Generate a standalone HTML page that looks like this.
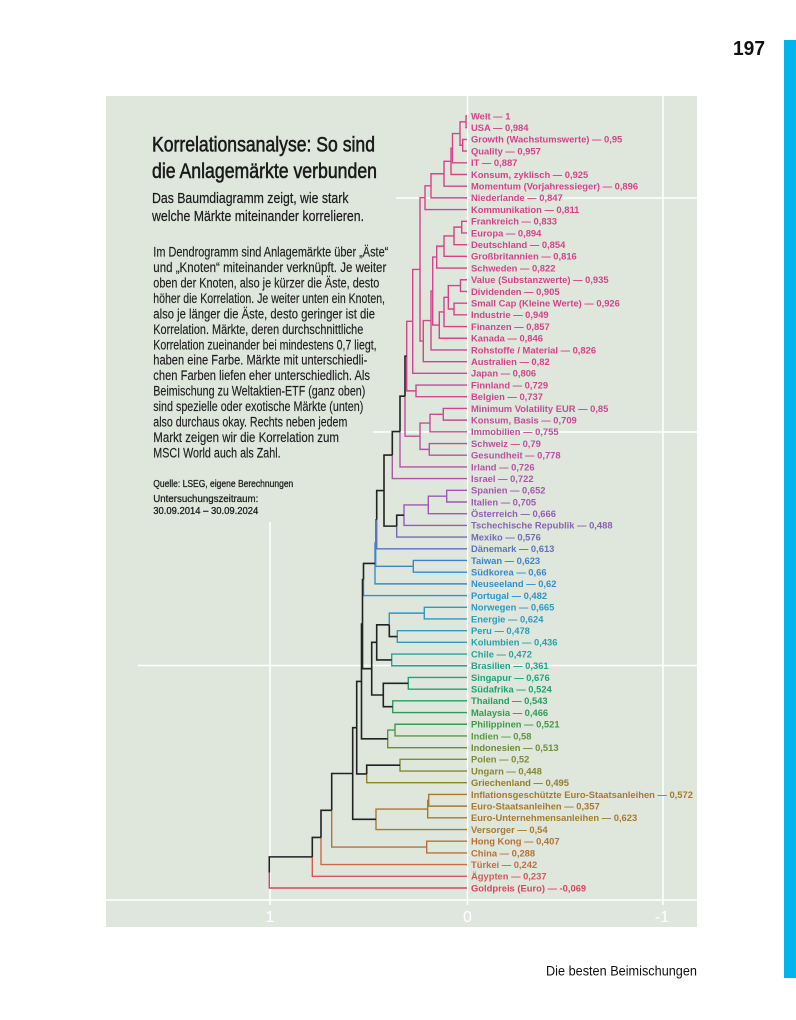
<!DOCTYPE html>
<html><head><meta charset="utf-8"><style>
html,body{margin:0;padding:0;background:#fff;}
svg{display:block;}
</style></head><body>
<svg xmlns="http://www.w3.org/2000/svg" width="796" height="1020" viewBox="0 0 796 1020" font-family="'Liberation Sans', sans-serif">
<rect x="0" y="0" width="796" height="1020" fill="#ffffff"/>
<rect x="784" y="40" width="12" height="938" fill="#00b4ee"/>
<text x="733" y="55" font-size="20" font-weight="bold" fill="#111" textLength="32" lengthAdjust="spacingAndGlyphs">197</text>
<text x="546" y="975.5" font-size="13.5" fill="#111" textLength="151" lengthAdjust="spacingAndGlyphs">Die besten Beimischungen</text>

<rect x="106" y="96" width="591" height="831" fill="#dfe6dc"/>
<!-- gridlines -->
<g stroke="#ffffff" stroke-width="1.5" fill="none">
<line x1="467.5" y1="96" x2="467.5" y2="905"/>
<line x1="663" y1="96" x2="663" y2="905"/>
<line x1="270" y1="522" x2="270" y2="905"/>
<line x1="106" y1="900" x2="697" y2="900"/>
<line x1="138" y1="665.5" x2="697" y2="665.5"/>
<line x1="373" y1="432" x2="697" y2="432"/>
<line x1="396" y1="198" x2="697" y2="198"/>
</g>
<g fill="#ffffff" font-size="16" text-anchor="middle">
<text x="270" y="922">1</text>
<text x="467.5" y="922">0</text>
<text x="662" y="922">-1</text>
</g>

<!-- title & text -->
<g fill="#1a1a1a" stroke="#1a1a1a" stroke-width="0.55">
<text x="152" y="151.5" font-size="21" textLength="223" lengthAdjust="spacingAndGlyphs">Korrelationsanalyse: So sind</text>
<text x="152" y="178" font-size="21" textLength="225" lengthAdjust="spacingAndGlyphs">die Anlagemärkte verbunden</text>
</g>
<g fill="#1a1a1a" stroke="#1a1a1a" stroke-width="0.2">
<text x="152" y="203" font-size="15" textLength="196.5" lengthAdjust="spacingAndGlyphs">Das Baumdiagramm zeigt, wie stark</text>
<text x="152" y="221" font-size="15" textLength="212" lengthAdjust="spacingAndGlyphs">welche Märkte miteinander korrelieren.</text>
</g>
<g fill="#1e1e1e" font-size="13.5" stroke="#1e1e1e" stroke-width="0.15">
<text x="153.3" y="256.5" textLength="235" lengthAdjust="spacingAndGlyphs">Im Dendrogramm sind Anlagemärkte über „Äste“</text>
<text x="153.3" y="272" textLength="233" lengthAdjust="spacingAndGlyphs">und „Knoten“ miteinander verknüpft. Je weiter</text>
<text x="153.3" y="287.4" textLength="226" lengthAdjust="spacingAndGlyphs">oben der Knoten, also je kürzer die Äste, desto</text>
<text x="153.3" y="302.9" textLength="231.7" lengthAdjust="spacingAndGlyphs">höher die Korrelation. Je weiter unten ein Knoten,</text>
<text x="153.3" y="318.3" textLength="221.7" lengthAdjust="spacingAndGlyphs">also je länger die Äste, desto geringer ist die</text>
<text x="153.3" y="333.8" textLength="210" lengthAdjust="spacingAndGlyphs">Korrelation. Märkte, deren durchschnittliche</text>
<text x="153.3" y="349.3" textLength="223.3" lengthAdjust="spacingAndGlyphs">Korrelation zueinander bei mindestens 0,7 liegt,</text>
<text x="153.3" y="364.7" textLength="214" lengthAdjust="spacingAndGlyphs">haben eine Farbe. Märkte mit unterschiedli-</text>
<text x="153.3" y="380.2" textLength="216.7" lengthAdjust="spacingAndGlyphs">chen Farben liefen eher unterschiedlich. Als</text>
<text x="153.3" y="395.6" textLength="212" lengthAdjust="spacingAndGlyphs">Beimischung zu Weltaktien-ETF (ganz oben)</text>
<text x="153.3" y="411.1" textLength="210" lengthAdjust="spacingAndGlyphs">sind spezielle oder exotische Märkte (unten)</text>
<text x="153.3" y="426.6" textLength="194" lengthAdjust="spacingAndGlyphs">also durchaus okay. Rechts neben jedem</text>
<text x="153.3" y="442" textLength="185.7" lengthAdjust="spacingAndGlyphs">Markt zeigen wir die Korrelation zum</text>
<text x="153.3" y="457.5" textLength="127.3" lengthAdjust="spacingAndGlyphs">MSCI World auch als Zahl.</text>
</g>
<g fill="#1e1e1e" font-size="10.5" stroke="#1e1e1e" stroke-width="0.3">
<text x="153.3" y="487" textLength="140" lengthAdjust="spacingAndGlyphs">Quelle: LSEG, eigene Berechnungen</text>
<text x="153.3" y="502" textLength="105" lengthAdjust="spacingAndGlyphs">Untersuchungszeitraum:</text>
<text x="153.3" y="514" textLength="105" lengthAdjust="spacingAndGlyphs">30.09.2014 – 30.09.2024</text>
</g>

<!-- dendrogram colored edges -->
<g fill="none" stroke-width="1.4">
<g stroke="#d4448a">
<path d="M467 116H466V121.85M467 127.7H466V121.85"/>
<path d="M467 139.39H462.7V145.24M467 151.09H462.7V145.24"/>
<path d="M466 121.85H460V133.55M462.7 145.24H460V133.55"/>
<path d="M460 133.55H452.5V148.17M467 162.79H452.5V148.17"/>
<path d="M452.5 148.17H451V161.33M467 174.49H451V161.33"/>
<path d="M451 161.33H444V173.76M467 186.18H444V173.76"/>
<path d="M444 173.76H431V185.82M467 197.88H431V185.82"/>
<path d="M431 185.82H425V197.7M467 209.58H425V197.7"/>
<path d="M467 221.27H461.7V227.12M467 232.97H461.7V227.12"/>
<path d="M461.7 227.12H454V235.9M467 244.67H454V235.9"/>
<path d="M454 235.9H444V246.13M467 256.36H444V246.13"/>
<path d="M444 246.13H436.7V257.1M467 268.06H436.7V257.1"/>
<path d="M467 279.76H460.5V285.61M467 291.45H460.5V285.61"/>
<path d="M467 303.15H454V309M467 314.85H454V309"/>
<path d="M460.5 285.61H448.3V297.3M454 309H448.3V297.3"/>
<path d="M448.3 297.3H444V311.93M467 326.55H444V311.93"/>
<path d="M444 311.93H439.3V325.08M467 338.24H439.3V325.08"/>
<path d="M436.7 257.1H432.7V291.09M439.3 325.08H432.7V291.09"/>
<path d="M432.7 291.09H431V320.52M467 349.94H431V320.52"/>
<path d="M431 320.52H423.3V341.08M467 361.64H423.3V341.08"/>
<path d="M425 197.7H420V269.39M423.3 341.08H420V269.39"/>
<path d="M420 269.39H412.7V321.36M467 373.33H412.7V321.36"/>
<path d="M412.7 321.36H406.7V356.12M416 390.88H406.7V356.12"/>
</g>
<path stroke="#d1468e" d="M467 385.03H416V390.88M467 396.73H416V390.88"/>
<path stroke="#c94997" d="M467 408.42H443.3V414.27"/>
<path stroke="#c54b9a" d="M467 420.12H443.3V414.27"/>
<path stroke="#c74a98" d="M443.3 414.27H430V423.05"/>
<path stroke="#c14d9d" d="M467 431.82H430V423.05"/>
<path stroke="#bd4fa1" d="M467 443.52H429.3V449.37"/>
<path stroke="#b951a4" d="M467 455.21H429.3V449.37"/>
<path stroke="#c24c9c" d="M430 423.05H420V436.21"/>
<path stroke="#bb50a2" d="M429.3 449.37H420V436.21"/>
<path stroke="#bf4e9f" d="M420 436.21H405V396.16"/>
<path stroke="#b453a8" d="M467 466.91H400V431.54"/>
<path stroke="#ad55ab" d="M467 478.61H392.3V455.07"/>
<path stroke="#a158b0" d="M467 490.3H446.7V496.15"/>
<path stroke="#9c5ab2" d="M467 502H446.7V496.15"/>
<path stroke="#9e59b1" d="M446.7 496.15H428.3V504.93"/>
<path stroke="#955db4" d="M467 513.7H428.3V504.93"/>
<path stroke="#985cb3" d="M428.3 504.93H404V515.16"/>
<path stroke="#8b61b6" d="M467 525.39H404V515.16"/>
<path stroke="#7668b9" d="M467 537.09H396.7V526.12"/>
<path stroke="#5e72bd" d="M467 548.79H376.7V519.69M376.7 519.69H375.7V543.01"/>
<path stroke="#3e83c8" d="M467 560.48H413.3V566.33"/>
<path stroke="#388aca" d="M467 572.18H413.3V566.33"/>
<path stroke="#3a87c9" d="M413.3 566.33H375.7V543.01M375.7 543.01H375V563.45"/>
<path stroke="#3290cb" d="M467 583.88H375V563.45"/>
<path stroke="#2e94ca" d="M467 595.58H363.5V579.51"/>
<path stroke="#2b98c5" d="M467 607.27H424.3V613.12M424.3 613.12H389.3V624.82"/>
<path stroke="#2a9cbf" d="M467 618.97H424.3V613.12"/>
<path stroke="#28a0b7" d="M467 630.67H397.3V636.52"/>
<path stroke="#25a2ab" d="M467 642.36H397.3V636.52"/>
<path stroke="#22a59b" d="M467 654.06H391.7V659.91"/>
<path stroke="#20a48b" d="M467 665.76H391.7V659.91"/>
<path stroke="#1fa47b" d="M467 677.45H408.3V683.3"/>
<path stroke="#20a26d" d="M467 689.15H408.3V683.3"/>
<path stroke="#24a061" d="M467 700.85H392.7V706.7"/>
<path stroke="#2b9e55" d="M467 712.55H392.7V706.7"/>
<path stroke="#3c9c48" d="M467 724.24H395V730.09"/>
<path stroke="#589a3f" d="M467 735.94H395V730.09"/>
<path stroke="#4a9b44" d="M395 730.09H387.7V738.86"/>
<path stroke="#6b8e36" d="M467 747.64H387.7V738.86"/>
<path stroke="#7f8b32" d="M467 759.33H400V765.18"/>
<path stroke="#87872f" d="M467 771.03H400V765.18"/>
<path stroke="#927f2c" d="M467 782.73H366.7V773.96"/>
<path stroke="#a67a2e" d="M467 794.42H428.7V800.27M467 806.12H428.7V800.27M428.7 800.27H427.7V809.05M467 817.82H427.7V809.05M427.7 809.05H376V819.28M467 829.52H376V819.28"/>
<path stroke="#b57333" d="M467 841.21H426.7V847.06"/>
<path stroke="#bb7036" d="M467 852.91H426.7V847.06"/>
<path stroke="#b87235" d="M426.7 847.06H331.7V810.28"/>
<path stroke="#cc6a44" d="M467 864.61H321V837.45"/>
<path stroke="#d45a55" d="M467 876.3H312.3V856.87"/>
<path stroke="#d8465f" d="M467 888H269.3V872.44"/>
</g>
<!-- black edges -->
<g fill="none" stroke="#222" stroke-width="1.6">
<path d="M406.7 356.12H405V396.16"/>
<path d="M405 396.16H400V431.54"/>
<path d="M400 431.54H392.3V455.07"/>
<path d="M404 515.16H396.7V526.12"/>
<path d="M392.3 455.07H384V490.6M396.7 526.12H384V490.6"/>
<path d="M384 490.6H376.7V519.69"/>
<path d="M375 563.45H363.5V579.51"/>
<path d="M397.3 636.52H389.3V624.82"/>
<path d="M389.3 624.82H376.7V642.36M391.7 659.91H376.7V642.36"/>
<path d="M408.3 683.3H383.3V695M392.7 706.7H383.3V695"/>
<path d="M376.7 642.36H371.7V668.68M383.3 695H371.7V668.68"/>
<path d="M363.5 579.51H362.5V624.1M371.7 668.68H362.5V624.1"/>
<path d="M362.5 624.1H361.5V681.48M387.7 738.86H361.5V681.48"/>
<path d="M400 765.18H366.7V773.96"/>
<path d="M361.5 681.48H356.7V727.72M366.7 773.96H356.7V727.72"/>
<path d="M356.7 727.72H352.7V773.5M376 819.28H352.7V773.5"/>
<path d="M352.7 773.5H331.7V810.28"/>
<path d="M331.7 810.28H321V837.45"/>
<path d="M321 837.45H312.3V856.87"/>
<path d="M312.3 856.87H269.3V872.44"/>
</g>

<!-- labels -->
<g font-size="9.4" font-weight="bold">
<g fill="#d4448a">
<text x="471" y="119.35">Welt — 1</text>
<text x="471" y="131.05">USA — 0,984</text>
<text x="471" y="142.74">Growth (Wachstumswerte) — 0,95</text>
<text x="471" y="154.44">Quality — 0,957</text>
<text x="471" y="166.14">IT — 0,887</text>
<text x="471" y="177.84">Konsum, zyklisch — 0,925</text>
<text x="471" y="189.53">Momentum (Vorjahressieger) — 0,896</text>
<text x="471" y="201.23">Niederlande — 0,847</text>
<text x="471" y="212.93">Kommunikation — 0,811</text>
<text x="471" y="224.62">Frankreich — 0,833</text>
<text x="471" y="236.32">Europa — 0,894</text>
<text x="471" y="248.02">Deutschland — 0,854</text>
<text x="471" y="259.71">Großbritannien — 0,816</text>
<text x="471" y="271.41">Schweden — 0,822</text>
<text x="471" y="283.11">Value (Substanzwerte) — 0,935</text>
<text x="471" y="294.8">Dividenden — 0,905</text>
<text x="471" y="306.5">Small Cap (Kleine Werte) — 0,926</text>
<text x="471" y="318.2">Industrie — 0,949</text>
<text x="471" y="329.9">Finanzen — 0,857</text>
<text x="471" y="341.59">Kanada — 0,846</text>
<text x="471" y="353.29">Rohstoffe / Material — 0,826</text>
<text x="471" y="364.99">Australien — 0,82</text>
<text x="471" y="376.68">Japan — 0,806</text>
</g>
<text x="471" y="388.38" fill="#d1468e">Finnland — 0,729</text>
<text x="471" y="400.08" fill="#d1468e">Belgien — 0,737</text>
<text x="471" y="411.77" fill="#c94997">Minimum Volatility EUR — 0,85</text>
<text x="471" y="423.47" fill="#c54b9a">Konsum, Basis — 0,709</text>
<text x="471" y="435.17" fill="#c14d9d">Immobilien — 0,755</text>
<text x="471" y="446.87" fill="#bd4fa1">Schweiz — 0,79</text>
<text x="471" y="458.56" fill="#b951a4">Gesundheit — 0,778</text>
<text x="471" y="470.26" fill="#b453a8">Irland — 0,726</text>
<text x="471" y="481.96" fill="#ad55ab">Israel — 0,722</text>
<text x="471" y="493.65" fill="#a158b0">Spanien — 0,652</text>
<text x="471" y="505.35" fill="#9c5ab2">Italien — 0,705</text>
<text x="471" y="517.05" fill="#955db4">Österreich — 0,666</text>
<text x="471" y="528.74" fill="#8b61b6">Tschechische Republik — 0,488</text>
<text x="471" y="540.44" fill="#7668b9">Mexiko — 0,576</text>
<text x="471" y="552.14" fill="#5e72bd">Dänemark — 0,613</text>
<text x="471" y="563.83" fill="#3e83c8">Taiwan — 0,623</text>
<text x="471" y="575.53" fill="#388aca">Südkorea — 0,66</text>
<text x="471" y="587.23" fill="#3290cb">Neuseeland — 0,62</text>
<text x="471" y="598.93" fill="#2e94ca">Portugal — 0,482</text>
<text x="471" y="610.62" fill="#2b98c5">Norwegen — 0,665</text>
<text x="471" y="622.32" fill="#2a9cbf">Energie — 0,624</text>
<text x="471" y="634.02" fill="#28a0b7">Peru — 0,478</text>
<text x="471" y="645.71" fill="#25a2ab">Kolumbien — 0,436</text>
<text x="471" y="657.41" fill="#22a59b">Chile — 0,472</text>
<text x="471" y="669.11" fill="#20a48b">Brasilien — 0,361</text>
<text x="471" y="680.8" fill="#1fa47b">Singapur — 0,676</text>
<text x="471" y="692.5" fill="#20a26d">Südafrika — 0,524</text>
<text x="471" y="704.2" fill="#24a061">Thailand — 0,543</text>
<text x="471" y="715.9" fill="#2b9e55">Malaysia — 0,466</text>
<text x="471" y="727.59" fill="#3c9c48">Philippinen — 0,521</text>
<text x="471" y="739.29" fill="#589a3f">Indien — 0,58</text>
<text x="471" y="750.99" fill="#6b8e36">Indonesien — 0,513</text>
<text x="471" y="762.68" fill="#7f8b32">Polen — 0,52</text>
<text x="471" y="774.38" fill="#87872f">Ungarn — 0,448</text>
<text x="471" y="786.08" fill="#927f2c">Griechenland — 0,495</text>
<text x="471" y="797.77" fill="#a67a2e">Inflationsgeschützte Euro-Staatsanleihen — 0,572</text>
<text x="471" y="809.47" fill="#a67a2e">Euro-Staatsanleihen — 0,357</text>
<text x="471" y="821.17" fill="#a87a2e">Euro-Unternehmensanleihen — 0,623</text>
<text x="471" y="832.87" fill="#ab792f">Versorger — 0,54</text>
<text x="471" y="844.56" fill="#b57333">Hong Kong — 0,407</text>
<text x="471" y="856.26" fill="#bb7036">China — 0,288</text>
<text x="471" y="867.96" fill="#cc6a44">Türkei — 0,242</text>
<text x="471" y="879.65" fill="#d45a55">Ägypten — 0,237</text>
<text x="471" y="891.35" fill="#d8465f">Goldpreis (Euro) — -0,069</text>
</g>
</svg>
</body></html>
